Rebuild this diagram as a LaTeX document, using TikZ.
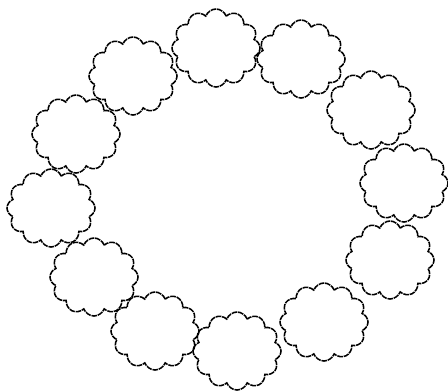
\documentclass[tikz,border=0pt]{standalone}
\usetikzlibrary{shapes.symbols}
\tikzset{
  puff/.style={cloud, cloud puffs=12, cloud puff arc=140, aspect=1.12,
    draw, line width=1.1pt, dash pattern=on 4pt off 0.6pt,
    minimum width=2.2cm, minimum height=1.95cm, inner sep=0pt}
}
\begin{document}
\begin{tikzpicture}[x=0.025cm, y=-0.025cm]
    \useasboundingbox (0,0) rectangle (448,390);
    \node[puff] (c1) at (216,48) {};
    \node[puff] (c2) at (301,59) {};
    \node[puff] (c3) at (371,110) {};
    \node[puff] (c4) at (404,183) {};
    \node[puff] (c5) at (390,260) {};
    \node[puff] (c6) at (324,322) {};
    \node[puff] (c7) at (237,351) {};
    \node[puff] (c8) at (155,331) {};
    \node[puff] (c9) at (94,277) {};
    \node[puff] (c10) at (51,208) {};
    \node[puff] (c11) at (76,134) {};
    \node[puff] (c12) at (133,76) {};
\end{tikzpicture}
\end{document}
